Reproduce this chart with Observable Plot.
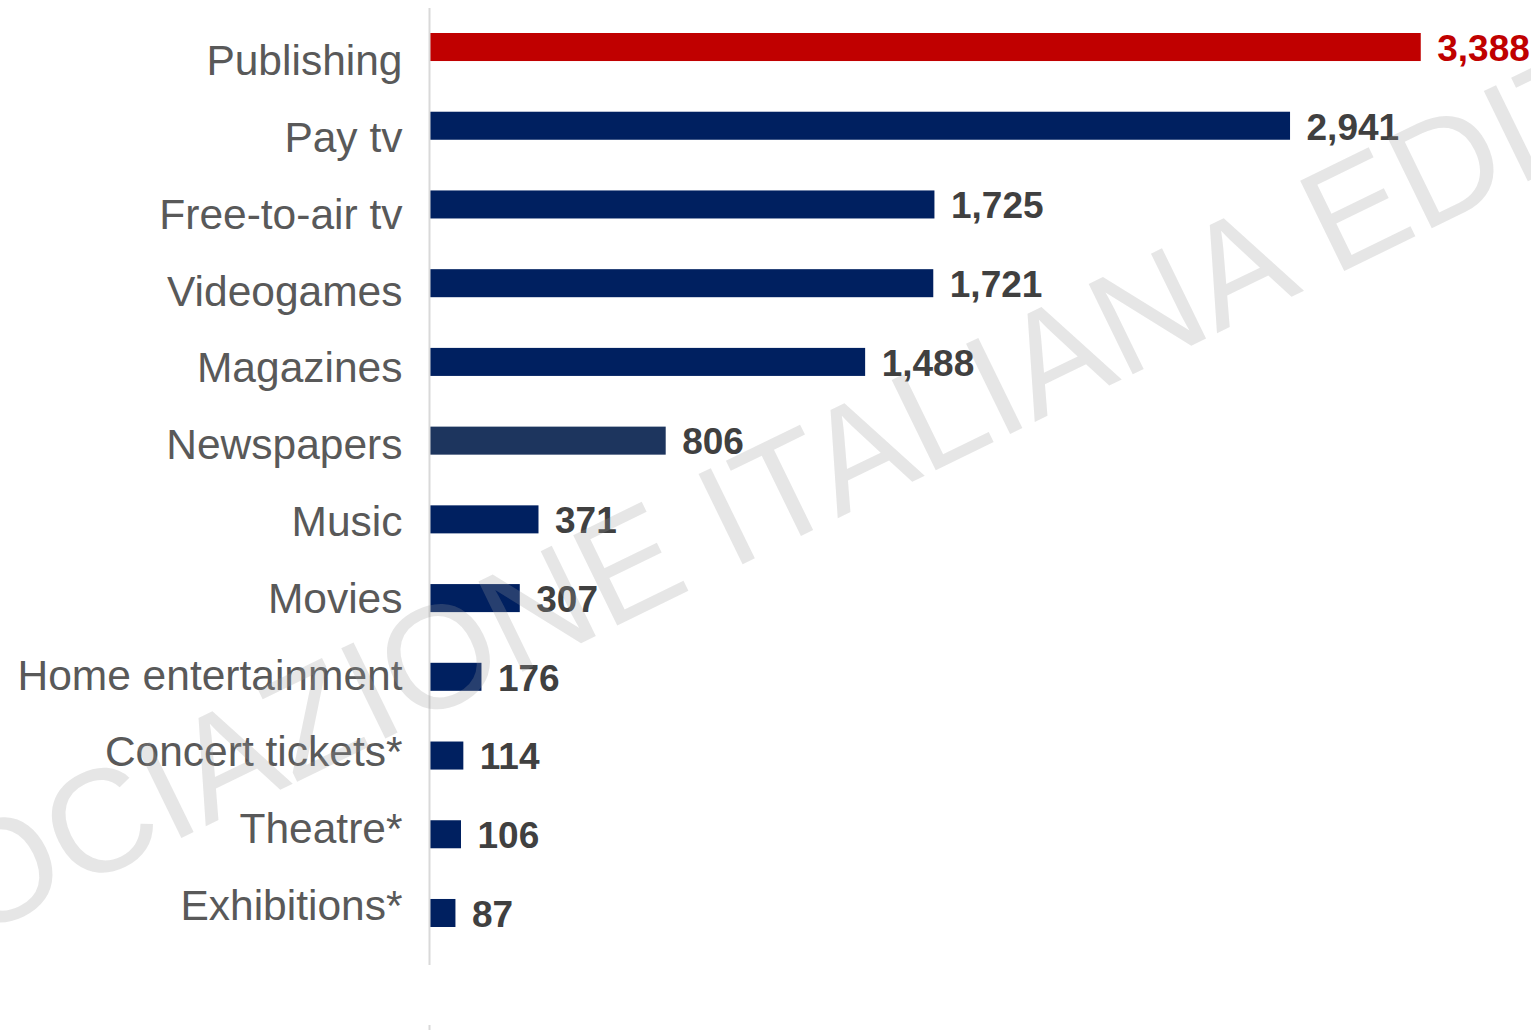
<!DOCTYPE html>
<html>
<head>
<meta charset="utf-8">
<script src="https://cdn.jsdelivr.net/npm/d3@7"></script>
<script src="https://cdn.jsdelivr.net/npm/@observablehq/plot@0.6"></script>
<style>
  html, body { margin: 0; padding: 0; background: #fff; }
  #chart { position: relative; width: 1531px; height: 1030px; background: #fff; }
  #chart svg { position: absolute; left: 0; top: 0; }
</style>
</head>
<body>
<div id="chart"></div>
<script>
const categories = ["Publishing", "Pay tv", "Free-to-air tv", "Videogames", "Magazines", "Newspapers", "Music", "Movies", "Home entertainment", "Concert tickets*", "Theatre*", "Exhibitions*"];
const values = [3388, 2941, 1725, 1721, 1488, 806, 371, 307, 176, 114, 106, 87];
const watermark = ["ASSOCIAZIONE ITALIANA EDITORI"];

const data = categories.map((c, i) => ({category: c, value: values[i]}));
const barColor = d => d.category === "Publishing" ? "#c00000" : d.category === "Newspapers" ? "#1d355e" : "#002060";
const labelColor = d => d.category === "Publishing" ? "#c00000" : "#404040";
const fmt = d3.format(",");
const font = "'Liberation Sans', Arial, sans-serif";

// Category labels (own point scale, slightly different spacing from bars as in the original)
const labels = Plot.plot({
  width: 1531,
  height: 1030,
  marginLeft: 430,
  marginRight: 0,
  marginTop: 8,
  marginBottom: 65,
  style: {fontFamily: font, color: "#595959", background: "transparent"},
  x: {domain: [0, 3765], axis: null},
  y: {type: "point", domain: categories, range: [61, 906], padding: 0, round: false, label: null},
  marks: [
    Plot.axisY({tickSize: 0, tickPadding: 28, fontSize: 42.5, label: null})
  ]
});

// Bars, values, axis line and watermark
const chart = Plot.plot({
  width: 1531,
  height: 1030,
  marginLeft: 430,
  marginRight: 0,
  marginTop: 8,
  marginBottom: 65,
  style: {fontFamily: font, color: "#595959", background: "transparent"},
  x: {domain: [0, 3765], axis: null},
  y: {domain: categories, range: [33, 927], paddingInner: 0.644, paddingOuter: 0, round: false, axis: null},
  marks: [
    Plot.barX(data, {x: "value", y: "category", fill: barColor}),
    Plot.ruleX([0], {stroke: "#d9d9d9", strokeWidth: 2, dx: -1}),
    Plot.ruleX([0], {stroke: "#d9d9d9", strokeWidth: 2, dx: -1, insetTop: 1017, insetBottom: -65}),
    Plot.text(data, {x: "value", y: "category", text: d => fmt(d.value), dx: 16, dy: 1.5, textAnchor: "start", fontSize: 37, fontWeight: "bold", fill: labelColor}),
    Plot.text(watermark, {frameAnchor: "middle", rotate: -26, fontSize: 146, fill: "#9d9d9d", fillOpacity: 0.25, dx: -215, dy: 14})
  ]
});

const root = document.getElementById("chart");
root.appendChild(labels);
root.appendChild(chart);
</script>
</body>
</html>
